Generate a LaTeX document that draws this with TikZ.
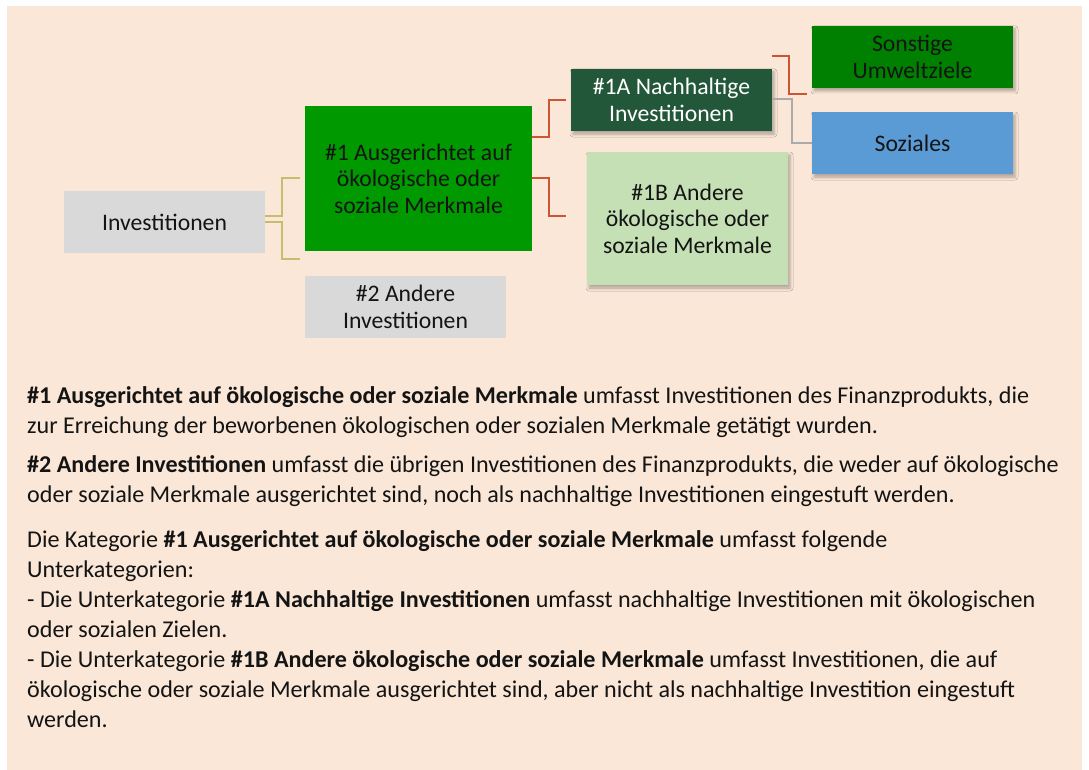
\documentclass[tikz,border=0pt]{standalone}
\usepackage{fontspec}
\setmainfont{Carlito}
\usetikzlibrary{shadows.blur}

\definecolor{hintergrund}{HTML}{FAE7D7}
\definecolor{grau}{HTML}{D9D9D9}
\definecolor{gruen}{HTML}{009900}
\definecolor{dunkelgruen}{HTML}{23573A}
\definecolor{mittelgruen}{HTML}{008000}
\definecolor{hellgruen}{HTML}{C5E0B4}
\definecolor{blau}{HTML}{5B9BD5}
\definecolor{khaki}{HTML}{C8BC6E}
\definecolor{rost}{HTML}{CC5533}
\definecolor{liniengrau}{HTML}{ABABAB}

\begin{document}
\begin{tikzpicture}[x=1pt,y=-1pt,
		kasten/.style={minimum width=201pt,minimum height=62pt,inner sep=0pt,align=center,
			text=black!92,font=\fontsize{23.7}{26.5}\selectfont},
		schatten/.style={blur shadow={shadow xshift=2pt,shadow yshift=-3pt,
			shadow blur radius=3pt,shadow opacity=30}},
		linie/.style={line width=2pt},
		absatz/.style={anchor=base west,align=left,inner sep=0pt,text=black!92,
			font=\fontsize{24.1}{29.9}\selectfont}]

			\useasboundingbox (0,0) rectangle (1089,770);

			% Hintergrund
			\fill[hintergrund] (7,6) rectangle (1082,770);

			% Kästen
			\node[kasten,fill=grau] (inv) at (164.5,222) {Investitionen};
			\node[kasten,fill=gruen,minimum width=227pt,minimum height=145pt] (one) at (418.5,178.5)
				{\#1 Ausgerichtet auf\\ökologische oder\\soziale Merkmale};
			\node[kasten,fill=grau] (two) at (405.5,307) {\#2 Andere\\Investitionen};
			\node[kasten,schatten,fill=dunkelgruen,text=white] (oneA) at (671.5,100)
				{\#1A Nachhaltige\\Investitionen};
			\node[kasten,schatten,fill=hellgruen,minimum height=133pt] (oneB) at (687.5,218.5)
				{\#1B Andere\\ökologische oder\\soziale Merkmale};
			\node[kasten,schatten,fill=mittelgruen] (sonst) at (912.5,57) {Sonstige\\Umweltziele};
			\node[kasten,schatten,fill=blau] (soz) at (912.5,143) {Soziales};

			% Verbindungen
			\coordinate (ende2) at (300,259);
			\draw[linie,khaki] ([yshift=6pt]inv.east) -- ++(17,0) |- ([xshift=-5pt]one.west);
			\draw[linie,khaki] (inv.east) -- ++(17,0) |- (ende2);
			\draw[linie,rost] ([yshift=41pt]one.east) -- ++(17,0) |- ([xshift=-5pt]oneA.west);
			\draw[linie,rost] (one.east) -- ++(17,0) |- ([xshift=-21pt,yshift=2.5pt]oneB.west);
			\draw[linie,rost] ([yshift=44pt]oneA.east) -- ++(17,0) |- ([xshift=-5pt,yshift=-37pt]sonst.west);
			\draw[linie,liniengrau] ([yshift=1pt]oneA.east) -- ++(20,0) |- (soz.west);

			% Erläuterungen (Grundlinie der letzten Zeile)
			\node[absatz] (text1) at (27,433.5)
				{\textbf{\#1 Ausgerichtet auf ökologische oder soziale Merkmale} umfasst Investitionen des Finanzprodukts, die\\
				zur Erreichung der beworbenen ökologischen oder sozialen Merkmale getätigt wurden.};
			\node[absatz] (text2) at (27,502)
				{\textbf{\#2 Andere Investitionen} umfasst die übrigen Investitionen des Finanzprodukts, die weder auf ökologische\\
				oder soziale Merkmale ausgerichtet sind, noch als nachhaltige Investitionen eingestuft werden.};
			\node[absatz] (text3) at (27,727)
				{Die Kategorie \textbf{\#1 Ausgerichtet auf ökologische oder soziale Merkmale} umfasst folgende\\
				Unterkategorien:\\
				- Die Unterkategorie \textbf{\#1A Nachhaltige Investitionen} umfasst nachhaltige Investitionen mit ökologischen\\
				oder sozialen Zielen.\\
				- Die Unterkategorie \textbf{\#1B Andere ökologische oder soziale Merkmale} umfasst Investitionen, die auf\\
				ökologische oder soziale Merkmale ausgerichtet sind, aber nicht als nachhaltige Investition eingestuft\\
				werden.};

		\end{tikzpicture}
\end{document}
